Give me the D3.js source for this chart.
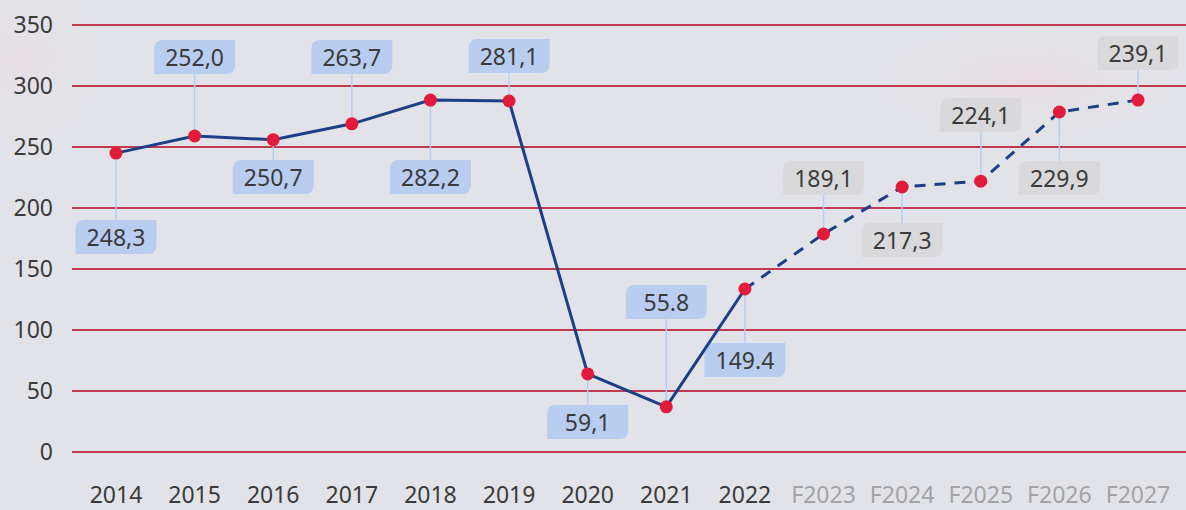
<!DOCTYPE html>
<html>
<head>
<meta charset="utf-8">
<script src="https://cdn.jsdelivr.net/npm/d3@7"></script>
<style>
  html, body { margin: 0; padding: 0; background: #e2e3e8; }
  svg { display: block; font-family: "Noto Sans", "Open Sans", sans-serif; }
</style>
</head>
<body>
<script>
// data
var years = ["2014", "2015", "2016", "2017", "2018", "2019", "2020", "2021", "2022",
             "F2023", "F2024", "F2025", "F2026", "F2027"];
var values = [245, 259, 256, 269, 288.5, 287.7, 64, 37, 133.6, 178.7, 217.2, 222, 278.7, 288.5];
var labels = ["248,3", "252,0", "250,7", "263,7", "282,2", "281,1", "59,1", "55.8", "149.4",
              "189,1", "217,3", "224,1", "229,9", "239,1"];
var forecast = [false, false, false, false, false, false, false, false, false,
                true, true, true, true, true];
var yTicks = [0, 50, 100, 150, 200, 250, 300, 350];

// callout layout (top of each box, in chart units)
var calloutTop = [190.2, 337.7, 239.3, 337.7, 239.3, 338.5, 38.5, 136.9, 89.3,
                  238.5, 187.7, 290.2, 238.5, 341];

const W = 1186, H = 510;
const boxW = 81, boxH = 34, r = 9;

const svg = d3.select("body").append("svg")
    .attr("width", W)
    .attr("height", H);

// soft background
var defs = svg.append("defs");
var g1 = defs.append("radialGradient").attr("id", "pink").attr("cx", "0.5").attr("cy", "0.5").attr("r", "0.5");
g1.append("stop").attr("offset", "0%").attr("stop-color", "#f0d8e0").attr("stop-opacity", 0.8);
g1.append("stop").attr("offset", "100%").attr("stop-color", "#e2e3e8").attr("stop-opacity", 0);
svg.append("rect").attr("width", W).attr("height", H).attr("fill", "#e2e3e8");
svg.append("ellipse").attr("cx", 1030).attr("cy", 80).attr("rx", 160).attr("ry", 60)
    .attr("fill", "url(#pink)").attr("opacity", 0.7);
svg.append("ellipse").attr("cx", 20).attr("cy", 60).attr("rx", 90).attr("ry", 90)
    .attr("fill", "url(#pink)").attr("opacity", 0.5);

const x = d3.scalePoint().domain(years).range([116, 1138]);
const y = d3.scaleLinear().domain([0, 350]).range([452, 25]);

// gridlines
svg.append("g").selectAll("line")
    .data(yTicks)
    .enter().append("line")
    .attr("x1", 72).attr("x2", W)
    .attr("y1", d => y(d)).attr("y2", d => y(d))
    .attr("stroke", "#c23a4f")
    .attr("stroke-width", 2);

// y axis labels
svg.append("g").selectAll("text")
    .data(yTicks)
    .enter().append("text")
    .attr("x", 53)
    .attr("y", d => y(d) + 8)
    .attr("text-anchor", "end")
    .attr("font-size", "23px")
    .attr("fill", "#3a3a3a")
    .text(d => d);

// x axis labels
svg.append("g").selectAll("text")
    .data(years)
    .enter().append("text")
    .attr("x", d => x(d))
    .attr("y", 503)
    .attr("text-anchor", "middle")
    .attr("font-size", "23px")
    .attr("fill", (d, i) => forecast[i] ? "#a3a3a6" : "#3a3a3a")
    .text(d => d);

var pts = years.map((d, i) => ({ year: d, value: values[i], label: labels[i], fc: forecast[i], top: calloutTop[i] }));

// leader lines
svg.append("g").selectAll("line")
    .data(pts)
    .enter().append("line")
    .attr("x1", d => x(d.year)).attr("x2", d => x(d.year))
    .attr("y1", d => y(d.value))
    .attr("y2", d => y(d.top) > y(d.value) ? y(d.top) : y(d.top) + boxH)
    .attr("stroke", "#b9cdf0")
    .attr("stroke-width", 1.5);

// callout boxes: rounded top-left and bottom-right
function leaf(x0, y0) {
  return "M" + x0 + "," + (y0 + r) +
    "Q" + x0 + "," + y0 + " " + (x0 + r) + "," + y0 +
    "L" + (x0 + boxW) + "," + y0 +
    "L" + (x0 + boxW) + "," + (y0 + boxH - r) +
    "Q" + (x0 + boxW) + "," + (y0 + boxH) + " " + (x0 + boxW - r) + "," + (y0 + boxH) +
    "L" + x0 + "," + (y0 + boxH) + "Z";
}

var boxes = svg.append("g").selectAll("g")
    .data(pts)
    .enter().append("g");

boxes.append("path")
    .attr("d", d => leaf(x(d.year) - boxW / 2, y(d.top)))
    .attr("fill", d => d.fc ? "#d9d9db" : "#b9cdf0");

boxes.append("text")
    .attr("x", d => x(d.year))
    .attr("y", d => y(d.top) + 26)
    .attr("text-anchor", "middle")
    .attr("font-size", "23px")
    .attr("fill", "#3a3a3a")
    .text(d => d.label);

// line
var line = d3.line().x(d => x(d.year)).y(d => y(d.value));

svg.append("path")
    .datum(pts.slice(0, 9))
    .attr("d", line)
    .attr("fill", "none")
    .attr("stroke", "#1d3f88")
    .attr("stroke-width", 3);

svg.append("path")
    .datum(pts.slice(8))
    .attr("d", line)
    .attr("fill", "none")
    .attr("stroke", "#1d3f88")
    .attr("stroke-width", 3)
    .attr("stroke-dasharray", "11,9");

// dots
svg.append("g").selectAll("circle")
    .data(pts)
    .enter().append("circle")
    .attr("cx", d => x(d.year))
    .attr("cy", d => y(d.value))
    .attr("r", 6.5)
    .attr("fill", "#e31b3a");
</script>
</body>
</html>
